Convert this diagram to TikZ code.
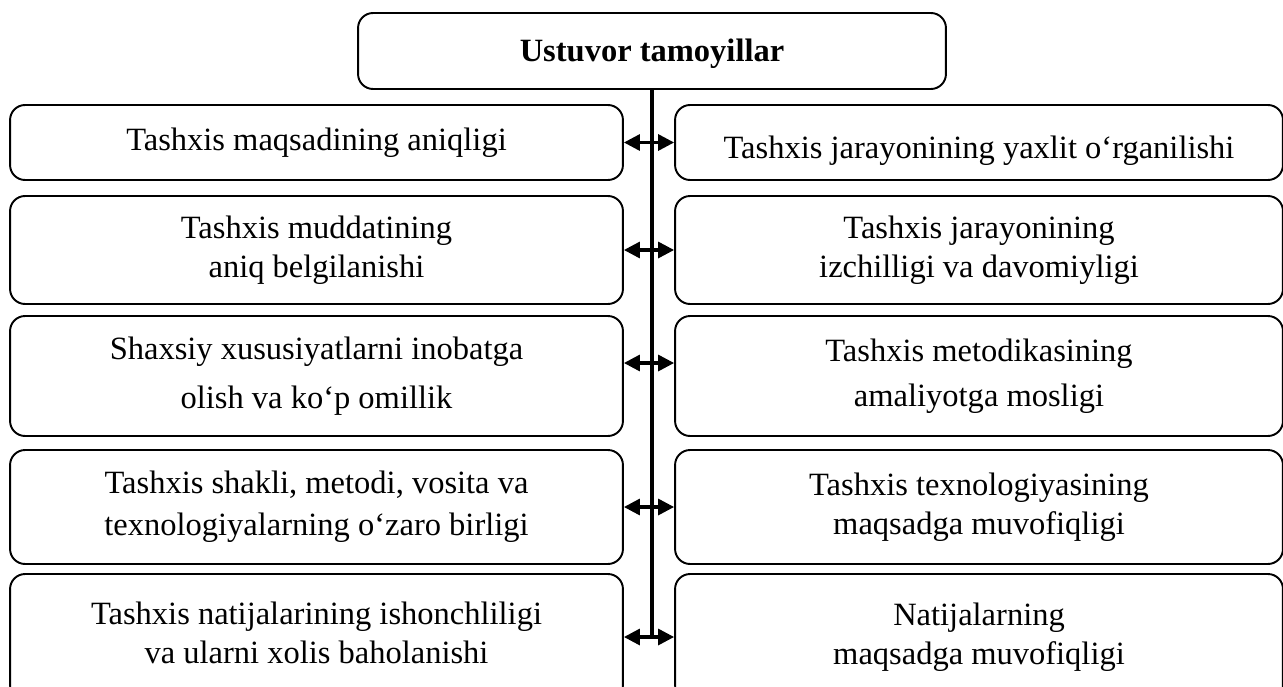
\documentclass[tikz,border=0pt]{standalone}
\usepackage{fontspec}
\setmainfont{Liberation Serif}
\usetikzlibrary{arrows.meta}

\tikzset{
  box/.style={draw, line width=1.1pt, rounded corners=0.3cm, align=center,
    inner sep=0pt, font=\fontsize{18.5}{22.5}\selectfont},
  leftbox/.style={box, minimum width=12.26cm},
  rightbox/.style={box, minimum width=12.16cm},
  link/.style={line width=1.8pt,
    {Triangle[length=0.32cm,width=0.32cm]}-{Triangle[length=0.32cm,width=0.32cm]}},
}

\begin{document}
\begin{tikzpicture}[x=0.02cm, y=-0.02cm]
  \useasboundingbox (0, 0) rectangle (1283, 686);
  \clip (0, 0) rectangle (1283, 686);

  % Title
  \node[box, minimum width=11.76cm, minimum height=1.52cm] (top) at (652, 51)
    {\raisebox{-0.06cm}[\height][\depth]{\textbf{Ustuvor tamoyillar}}};

  % Left column
  \node[leftbox, minimum height=1.5cm] (l1) at (316.5, 142.5)
    {Tashxis maqsadining aniqligi};
  \node[leftbox, minimum height=2.16cm] (l2) at (316.5, 250)
    {Tashxis muddatining\\aniq belgilanishi};
  \node[leftbox, minimum height=2.4cm] (l3) at (316.5, 376)
    {Shaxsiy xususiyatlarni inobatga\\[0.2cm]olish va ko‘p omillik};
  \node[leftbox, minimum height=2.28cm] (l4) at (316.5, 507)
    {Tashxis shakli, metodi, vosita va\\[0.05cm]texnologiyalarning o‘zaro birligi};
  \node[leftbox, minimum height=2.52cm] (l5) at (316.5, 637)
    {\raisebox{0.08cm}[\height][\depth]{Tashxis natijalarining ishonchliligi}\\
     \raisebox{0.08cm}[\height][\depth]{va ularni xolis baholanishi}};

  % Right column
  \node[rightbox, minimum height=1.5cm] (r1) at (979, 142.5)
    {\raisebox{-0.16cm}[\height][\depth]{Tashxis jarayonining yaxlit o‘rganilishi}};
  \node[rightbox, minimum height=2.16cm] (r2) at (979, 250)
    {Tashxis jarayonining\\izchilligi va davomiyligi};
  \node[rightbox, minimum height=2.4cm] (r3) at (979, 376)
    {Tashxis metodikasining\\[0.1cm]amaliyotga mosligi};
  \node[rightbox, minimum height=2.28cm] (r4) at (979, 507)
    {Tashxis texnologiyasining\\maqsadga muvofiqligi};
  \node[rightbox, minimum height=2.52cm] (r5) at (979, 637)
    {Natijalarning\\maqsadga muvofiqligi};

  % Axis and links
  \coordinate (axisend) at (top.south |- l5.east);
  \draw[line width=2.3pt] (top.south) -- (axisend);
  \draw[link] (l1.east) -- (r1.west);
  \draw[link] (l2.east) -- (r2.west);
  \draw[link] ([yshift=0.26cm]l3.east) -- ([yshift=0.26cm]r3.west);
  \draw[link] (l4.east) -- (r4.west);
  \draw[link] (l5.east) -- (r5.west);
\end{tikzpicture}
\end{document}
